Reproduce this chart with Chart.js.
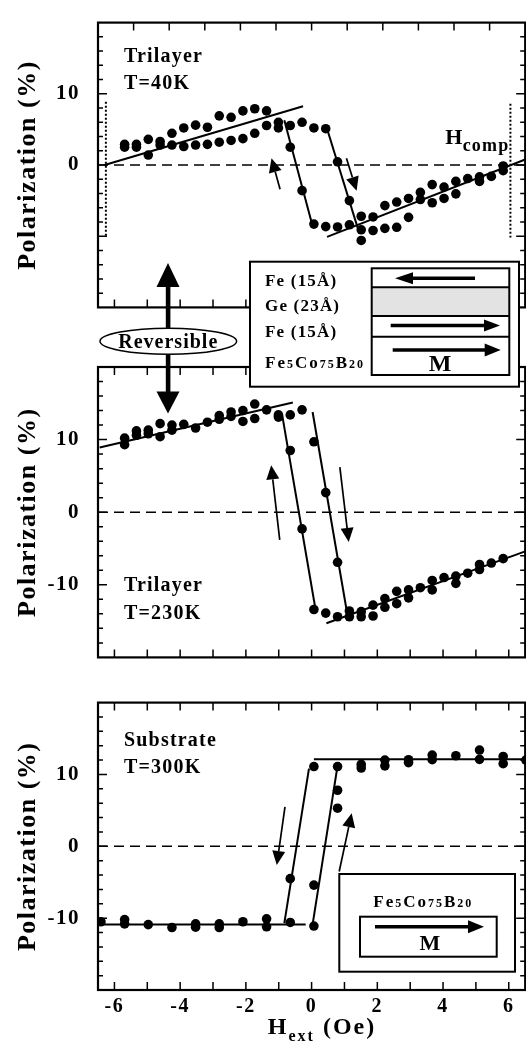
<!DOCTYPE html>
<html>
<head>
<meta charset="utf-8">
<script src="https://cdn.jsdelivr.net/npm/chart.js@4.4.1/dist/chart.umd.min.js"></script>
<style>
  body { margin: 0; width: 526px; height: 1049px; overflow: hidden; background: #fff; position: relative; }
  .panel { position: absolute; left: 0; }
  #overlay { position: absolute; left: 0; top: 0; pointer-events: none; }
</style>
</head>
<body>
<canvas id="panel40" class="panel" style="top:0" width="530" height="330"></canvas>
<canvas id="panel230" class="panel" style="top:340px" width="530" height="340"></canvas>
<canvas id="panel300" class="panel" style="top:680px" width="530" height="369"></canvas>

<svg id="overlay" width="526" height="1049" font-family="'Liberation Serif', 'Times New Roman', serif" font-weight="bold">
  <!-- "Reversible" marker between the two trilayer panels -->
  <rect x="165.8" y="284" width="4.6" height="46" fill="#000"/>
  <polygon points="156.5,287 179.5,287 168,263" fill="#000"/>
  <rect x="165.8" y="353" width="4.6" height="40" fill="#000"/>
  <polygon points="156.5,391.5 179.5,391.5 168,413.5" fill="#000"/>
  <ellipse cx="168.3" cy="341.2" rx="68.3" ry="13" fill="#fff" stroke="#000" stroke-width="1.5"/>
  <text x="168.3" y="347.5" text-anchor="middle" font-size="20" letter-spacing="1">Reversible</text>

  <!-- trilayer sketch -->
  <rect x="250" y="261.7" width="269" height="125" fill="#fff" stroke="#000" stroke-width="2"/>
  <rect x="371.7" y="287.3" width="137.6" height="28.7" fill="#e3e3e3"/>
  <rect x="371.7" y="268.3" width="137.6" height="106.7" fill="none" stroke="#000" stroke-width="2"/>
  <line x1="371.7" y1="287.3" x2="509.3" y2="287.3" stroke="#000" stroke-width="2"/>
  <line x1="371.7" y1="316" x2="509.3" y2="316" stroke="#000" stroke-width="2"/>
  <line x1="371.7" y1="336.7" x2="509.3" y2="336.7" stroke="#000" stroke-width="2"/>
  <line x1="475" y1="278.3" x2="410" y2="278.3" stroke="#000" stroke-width="3.5"/>
  <polygon points="395,278.3 413,272.3 413,284.3" fill="#000"/>
  <line x1="390.7" y1="325.5" x2="486" y2="325.5" stroke="#000" stroke-width="3.5"/>
  <polygon points="500,325.5 484,319.5 484,331.5" fill="#000"/>
  <line x1="392.7" y1="350" x2="486" y2="350" stroke="#000" stroke-width="3.5"/>
  <polygon points="500.7,350 484.7,343.5 484.7,356.5" fill="#000"/>
  <text x="440" y="371" text-anchor="middle" font-size="24">M</text>
  <g font-size="17" letter-spacing="1.2">
    <text x="265" y="285.7">Fe (15Å)</text>
    <text x="265" y="311">Ge (23Å)</text>
    <text x="265" y="336.7">Fe (15Å)</text>
    <text x="265" y="367.7" letter-spacing="2">Fe<tspan font-size="12">5</tspan>Co<tspan font-size="12">75</tspan>B<tspan font-size="12">20</tspan></text>
  </g>

  <!-- substrate sketch -->
  <rect x="339.3" y="874" width="175.7" height="97.7" fill="#fff" stroke="#000" stroke-width="2"/>
  <text x="423.3" y="906.7" text-anchor="middle" font-size="17" letter-spacing="2">Fe<tspan font-size="12">5</tspan>Co<tspan font-size="12">75</tspan>B<tspan font-size="12">20</tspan></text>
  <rect x="360" y="916.7" width="136.7" height="40" fill="none" stroke="#000" stroke-width="2"/>
  <line x1="375" y1="926.7" x2="470" y2="926.7" stroke="#000" stroke-width="3.5"/>
  <polygon points="484,926.7 468,920.2 468,933.2" fill="#000"/>
  <text x="430" y="950" text-anchor="middle" font-size="22">M</text>

  <!-- x axis title -->
  <text x="322" y="1034" text-anchor="middle" font-size="24" letter-spacing="2">H<tspan font-size="16" dy="7">ext</tspan><tspan dy="-7"> (Oe)</tspan></text>
</svg>

<script>
// axis ticks
const xTickValues = [-6, -5, -4, -3, -2, -1, 0, 1, 2, 3, 4, 5, 6];
const xLabelValues = [-6, -4, -2, 0, 2, 4, 6];
const yLabelValues = [-10, 0, 10];
const yLabelValuesTop = [0, 10];
const zeroLine = [-6.5, 0, 6.5, 0];

// Trilayer, T=40K
const field40 = [-5.69, -5.69, -5.33, -5.33, -4.97, -4.97, -4.61, -4.61, -4.25, -4.25,
  -3.89, -3.89, -3.53, -3.53, -3.17, -3.17, -2.81, -2.81, -2.45, -2.45,
  -2.09, -2.09, -1.73, -1.73, -1.37, -1.37, -1.01, -1.01, -0.65, -0.65,
  -0.29, -0.29, 0.07, 0.07, 0.43, 0.43, 0.79, 0.79, 1.15, 1.15,
  1.51, 1.51, 1.51, 1.87, 1.87, 2.23, 2.23, 2.59, 2.59, 2.95, 2.95,
  3.31, 3.31, 3.67, 3.67, 4.03, 4.03, 4.39, 4.39, 4.75, 5.11, 5.11, 5.47, 5.83, 5.83];
const pol40 = [2.9, 2.5, 2.9, 2.5, 3.6, 1.4, 3.3, 2.8, 4.45, 2.8,
  5.2, 2.6, 5.6, 2.8, 5.3, 2.9, 6.9, 3.2, 6.7, 3.45,
  7.6, 3.7, 7.9, 4.45, 7.6, 5.55, 6.0, 5.2, 5.55, 2.5,
  6.0, -3.6, 5.2, -8.3, 5.1, -8.65, 0.45, -8.7, -5.0, -8.4,
  -7.2, -9.1, -10.6, -7.3, -9.2, -5.7, -8.9, -5.2, -8.75, -4.7, -7.35,
  -3.85, -4.85, -2.75, -5.3, -3.1, -4.7, -2.3, -4.05, -1.9, -1.66, -2.3, -1.6, -0.13, -0.8];
const fit40 = [[-6.3, 0, -0.26, 8.26], [-0.83, 6.3, 0.02, -8.4], [0.47, 5.1, 1.4, -8.8], [0.47, -10.1, 6.5, 0.78]];
const hcomp40 = [[-6.26, 8.9, -6.26, -10], [6.05, 8.6, 6.05, -10.2]];
const arrows40 = [[-0.96, -3.4, -1.22, 0.96], [1.06, 0.96, 1.37, -3.63]];

// Trilayer, T=230K
const field230 = [-5.69, -5.69, -5.33, -5.33, -4.97, -4.97, -4.61, -4.61, -4.25, -4.25,
  -3.89, -3.53, -3.17, -2.81, -2.81, -2.45, -2.45, -2.09, -2.09, -1.73, -1.73,
  -1.37, -1.01, -1.01, -0.65, -0.65, -0.29, -0.29, 0.07, 0.07, 0.43, 0.43,
  0.79, 0.79, 1.15, 1.15, 1.51, 1.51, 1.87, 1.87, 2.23, 2.23, 2.59, 2.59,
  2.95, 2.95, 3.31, 3.67, 3.67, 4.03, 4.39, 4.39, 4.75, 5.11, 5.11, 5.47, 5.83];
const pol230 = [10.2, 9.3, 11.2, 10.6, 11.3, 10.8, 12.2, 10.4, 12.0, 11.3,
  12.1, 11.6, 12.4, 13.3, 12.8, 13.8, 13.2, 14.0, 12.5, 14.9, 12.9,
  14.1, 13.4, 13.1, 13.4, 8.5, 14.1, -2.3, 9.7, -13.4, 2.7, -13.9,
  -6.9, -14.4, -13.6, -14.4, -13.7, -14.4, -14.3, -12.8, -11.9, -13.1, -10.9, -12.6,
  -10.7, -11.8, -10.4, -9.4, -10.7, -9.0, -8.8, -9.8, -8.4, -7.2, -7.9, -7.0, -6.4];
const fit230 = [[-6.45, 8.9, -0.57, 15.1], [-0.9, 13.5, 0.12, -13.4], [0.03, 13.8, 1.1, -14.4], [0.45, -15.3, 6.5, -5.4]];
const arrows230 = [[-0.97, -3.8, -1.23, 6.45], [0.86, 6.2, 1.13, -4.1]];

// Substrate, T=300K
const field300 = [-6.41, -5.69, -5.69, -4.97, -4.25, -3.53, -3.53, -2.81, -2.81, -2.09,
  -1.37, -1.37, -0.65, -0.65, 0.07, 0.07, 0.07, 0.79, 0.79, 0.79,
  1.51, 1.51, 2.23, 2.23, 2.95, 2.95, 3.67, 3.67, 4.39, 5.11, 5.11, 5.83, 5.83, 6.52];
const pol300 = [-10.5, -10.2, -10.8, -10.9, -11.3, -10.8, -11.25, -10.8, -11.3, -10.5,
  -10.1, -11.2, -4.5, -10.6, 11.1, -5.4, -11.1, 11.1, 7.8, 5.3,
  11.4, 10.9, 12.0, 11.2, 12.05, 11.65, 12.7, 12.05, 12.6, 13.4, 12.1, 12.5, 11.5, 12.0];
const fit300 = [[-6.5, -10.9, -0.18, -10.9], [0.07, 12.1, 6.5, 12.1], [-0.83, -10.7, -0.08, 10.8], [0.03, -10.9, 0.8, 11.5]];
const arrows300 = [[-0.81, 5.5, -1.06, -2.6], [0.84, -3.5, 1.22, 4.6]];

Chart.defaults.font.family = "'Liberation Serif', 'Times New Roman', serif";
Chart.defaults.font.weight = 'bold';
Chart.defaults.color = '#000';

// frame, inward ticks, arrows and in-panel text
const panelDecor = {
  id: 'panelDecor',
  beforeDraw(chart) {
    chart.ctx.letterSpacing = '1.5px';
  },
  beforeDatasetsDraw(chart) {
    const { ctx, chartArea: a, scales } = chart;
    ctx.save();
    ctx.strokeStyle = '#000';
    ctx.lineWidth = 2.2;
    ctx.strokeRect(a.left, a.top, a.right - a.left, a.bottom - a.top);
    ctx.lineWidth = 1.5;
    ctx.beginPath();
    scales.y.ticks.forEach(t => {
      if (t.value <= scales.y.min || t.value >= scales.y.max) return;
      const py = scales.y.getPixelForValue(t.value);
      const len = t.value % 10 === 0 ? 9 : 5;
      ctx.moveTo(a.left, py); ctx.lineTo(a.left + len, py);
      ctx.moveTo(a.right, py); ctx.lineTo(a.right - len, py);
    });
    xTickValues.forEach(v => {
      const px = scales.x.getPixelForValue(v);
      ctx.moveTo(px, a.bottom); ctx.lineTo(px, a.bottom - 8);
      if (v > scales.xTop.min && v < scales.xTop.max) {
        const pt = scales.xTop.getPixelForValue(v);
        ctx.moveTo(pt, a.top); ctx.lineTo(pt, a.top + 8);
      }
    });
    ctx.stroke();
    ctx.restore();
  },
  afterDatasetsDraw(chart, args, opts) {
    const { ctx, scales: { x, y } } = chart;
    ctx.save();
    ctx.fillStyle = '#000';
    ctx.strokeStyle = '#000';
    ctx.lineWidth = 1.7;
    (opts.arrows || []).forEach(([x1, y1, x2, y2]) => {
      const ax = x.getPixelForValue(x1), ay = y.getPixelForValue(y1);
      const bx = x.getPixelForValue(x2), by = y.getPixelForValue(y2);
      const ang = Math.atan2(by - ay, bx - ax);
      const hl = 14, hw = 6.5;
      const cx = bx - hl * Math.cos(ang), cy = by - hl * Math.sin(ang);
      ctx.beginPath();
      ctx.moveTo(ax, ay); ctx.lineTo(cx, cy);
      ctx.stroke();
      ctx.beginPath();
      ctx.moveTo(bx, by);
      ctx.lineTo(cx + hw * Math.sin(ang), cy - hw * Math.cos(ang));
      ctx.lineTo(cx - hw * Math.sin(ang), cy + hw * Math.cos(ang));
      ctx.closePath();
      ctx.fill();
    });
    ctx.letterSpacing = '1.2px';
    ctx.textBaseline = 'alphabetic';
    ctx.textAlign = 'left';
    (opts.labels || []).forEach(l => {
      const px = x.getPixelForValue(l.x), py = y.getPixelForValue(l.y);
      ctx.font = `bold ${l.size || 20}px 'Liberation Serif', serif`;
      ctx.fillText(l.text, px, py);
      if (l.sub) {
        const w = ctx.measureText(l.text).width;
        ctx.font = `bold 18px 'Liberation Serif', serif`;
        ctx.fillText(l.sub, px + w - 1, py + 7);
      }
    });
    ctx.restore();
  }
};

function toPoints(xs, ys) {
  return xs.map((v, i) => ({ x: v, y: ys[i] }));
}

function segment(s, width, dash) {
  return {
    data: [{ x: s[0], y: s[1] }, { x: s[2], y: s[3] }],
    showLine: true, borderColor: '#000', borderWidth: width, borderDash: dash,
    pointRadius: 0
  };
}

function buildPanel(id, cfg) {
  const datasets = [segment(zeroLine, 1.5, [10, 6])];
  (cfg.dotted || []).forEach(s => datasets.push(segment(s, 2, [2, 2])));
  cfg.fits.forEach(s => datasets.push(segment(s, 2, [])));
  datasets.push({
    data: toPoints(cfg.field, cfg.pol),
    pointRadius: 4.8, pointBackgroundColor: '#000', pointBorderWidth: 0, showLine: false
  });

  return new Chart(document.getElementById(id), {
    type: 'scatter',
    data: { datasets },
    options: {
      responsive: false,
      animation: false,
      events: [],
      layout: { padding: { top: cfg.padTop, right: 3, left: 0, bottom: 0 } },
      plugins: {
        legend: { display: false },
        tooltip: { enabled: false },
        panelDecor: { arrows: cfg.arrows, labels: cfg.labels }
      },
      scales: {
        x: {
          type: 'linear', min: -6.5, max: 6.5,
          grid: { display: false }, border: { display: false },
          afterBuildTicks: s => { s.ticks = xTickValues.map(v => ({ value: v })); },
          ticks: {
            display: cfg.showX, autoSkip: false, maxRotation: 0, padding: -3,
            font: { size: 20 },
            callback: v => xLabelValues.includes(v) ? String(v) : ''
          },
          afterFit: s => { s.height = cfg.xHeight; }
        },
        xTop: { type: 'linear', position: 'top', display: false, min: cfg.topRange[0], max: cfg.topRange[1] },
        y: {
          min: -20, max: 20,
          grid: { display: false }, border: { display: false },
          ticks: {
            stepSize: 2, autoSkip: false, padding: 10,
            font: { size: 21 },
            callback: v => cfg.yLabels.includes(v) ? String(v) : ''
          },
          title: {
            display: true, text: 'Polarization (%)',
            font: { size: 26, weight: 'bold' },
            padding: { top: 13, bottom: 0 }
          },
          afterFit: s => { s.width = 98; }
        }
      }
    },
    plugins: [panelDecor]
  });
}

buildPanel('panel40', {
  padTop: 10, xHeight: 17, showX: false, topRange: [-6, 6], yLabels: yLabelValuesTop,
  field: field40, pol: pol40, fits: fit40, dotted: hcomp40, arrows: arrows40,
  labels: [
    { text: 'Trilayer', x: -5.71, y: 14.5 },
    { text: 'T=40K', x: -5.71, y: 10.7 },
    { text: 'H', sub: 'comp', x: 4.07, y: 3.0, size: 22 }
  ]
});

buildPanel('panel230', {
  padTop: 27, xHeight: 13, showX: false, topRange: [-6.5, 6.5], yLabels: yLabelValues,
  field: field230, pol: pol230, fits: fit230, arrows: arrows230,
  labels: [
    { text: 'Trilayer', x: -5.71, y: -10.9 },
    { text: 'T=230K', x: -5.71, y: -14.7 }
  ]
});

buildPanel('panel300', {
  padTop: 8, xHeight: 59, showX: true, topRange: [-6.5, 6.5], yLabels: yLabelValues,
  field: field300, pol: pol300, fits: fit300, arrows: arrows300,
  labels: [
    { text: 'Substrate', x: -5.71, y: 13.9 },
    { text: 'T=300K', x: -5.71, y: 10.2 }
  ]
});
</script>
</body>
</html>
